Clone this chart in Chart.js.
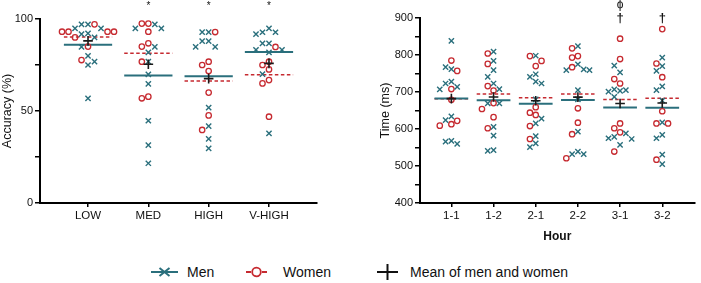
<!DOCTYPE html>
<html><head><meta charset="utf-8">
<script src="https://cdn.jsdelivr.net/npm/chart.js@4.4.1/dist/chart.umd.min.js"></script>
<style>
html,body{margin:0;padding:0;background:#fff}
body{width:701px;height:283px;position:relative;overflow:hidden;font-family:"Liberation Sans",Arial,sans-serif;color:#111}
#c1{position:absolute;left:0;top:0}
#c2{position:absolute;left:370px;top:0}
.lg{position:absolute;top:264px;height:16px;line-height:16px;font-size:14px;white-space:nowrap}
.ic{position:absolute}
</style></head>
<body>
<canvas id="c1" width="330" height="240"></canvas>
<canvas id="c2" width="331" height="245"></canvas>

<svg class="ic" style="left:151px;top:265px" width="27" height="14"><line x1="0" y1="7" x2="27" y2="7" stroke="#2a6f7c" stroke-width="2"/><line x1="8.5" y1="3" x2="18.5" y2="11" stroke="#2a6f7c" stroke-width="2"/><line x1="8.5" y1="11" x2="18.5" y2="3" stroke="#2a6f7c" stroke-width="2"/></svg>
<div class="lg" style="left:187px">Men</div>
<svg class="ic" style="left:246px;top:265px" width="21" height="14"><line x1="0" y1="7" x2="5" y2="7" stroke="#c62a30" stroke-width="2"/><line x1="16" y1="7" x2="21" y2="7" stroke="#c62a30" stroke-width="2"/><circle cx="10.5" cy="7" r="4.3" fill="none" stroke="#c62a30" stroke-width="1.8"/></svg>
<div class="lg" style="left:283px">Women</div>
<svg class="ic" style="left:377px;top:264px" width="21" height="16"><line x1="0" y1="8" x2="21" y2="8" stroke="#111" stroke-width="2"/><line x1="10.5" y1="0" x2="10.5" y2="16" stroke="#111" stroke-width="2"/></svg>
<div class="lg" style="left:410px">Mean of men and women</div>

<script>
// ---------- DATA ----------
const accCategories = ['LOW', 'MED', 'HIGH', 'V-HIGH'];
const accMen = [
  [97.1, 94.9, 94.9, 97.1, 92.2, 91.8, 90.0, 84.8, 79.9, 76.8, 75.0, 56.9],
  [97.1, 94.9, 94.9, 84.8, 81.9, 76.8, 69.9, 64.7, 44.7, 31.5, 21.6],
  [92.9, 92.9, 88.0, 88.0, 84.8, 84.8, 51.8, 41.8, 34.8, 29.7],
  [94.9, 92.8, 92.8, 91.8, 86.8, 86.8, 83.2, 81.9, 83.2, 70.1, 37.9]
];
const accWomen = [
  [97.1, 93.1, 93.1, 93.1, 93.1, 90.0, 85.0, 77.7],
  [97.5, 97.5, 93.1, 86.8, 85.0, 76.8, 57.8, 56.9],
  [92.9, 76.8, 75.0, 71.7, 60.0, 47.6, 39.7],
  [84.8, 76.8, 75.0, 72.6, 66.8, 65.0, 46.9]
];
const accYTicks = [0, 25, 50, 75, 100];
const accYLabels = ['0', '', '50', '', '100'];
const accMarks = [[], ['*'], ['*'], ['*']];

const hourCategories = ['1-1', '1-2', '2-1', '2-2', '3-1', '3-2'];
const timeMen = [
  [838, 767, 762, 723, 728, 714, 707, 634, 624, 568, 566, 560],
  [809, 784, 759, 741, 723, 708, 669, 669, 606, 582, 543, 541],
  [798, 748, 741, 728, 723, 680, 628, 615, 581, 561, 551],
  [824, 775, 761, 759, 759, 705, 680, 593, 539, 532, 532],
  [771, 753, 707, 705, 687, 701, 703, 588, 579, 575, 573, 557],
  [793, 770, 757, 715, 705, 677, 618, 584, 575, 531, 505]
];
const timeWomen = [
  [785, 757, 708, 679, 622, 613, 609],
  [804, 776, 716, 704, 670, 654, 632, 602],
  [797, 784, 770, 659, 644, 638, 608, 573],
  [818, 797, 793, 767, 656, 617, 586, 521],
  [844, 789, 735, 723, 615, 602, 591, 539],
  [870, 777, 740, 648, 615, 615, 517]
];
const timeYTicks = [400, 450, 500, 550, 600, 650, 700, 750, 800, 850, 900];
const timeYLabels = ['400', '', '500', '', '600', '', '700', '', '800', '', '900'];
const timeMarks = [[], [], [], [], ['\u03D5', '\u2020'], ['\u2020']];

// ---------- STYLE ----------
const TEAL = '#2a6f7c', RED = '#c62a30', MEAN = '#1a1a1a', AXIS = '#000';
const FONT = '"Liberation Sans", Arial, sans-serif';
Chart.defaults.font.family = FONT;
Chart.defaults.color = '#111';

function meanOf(a) { return a.reduce((s, v) => s + v, 0) / a.length; }

function buildDatasets(cats, men, women) {
  const ds = [];
  ds.push({ type: 'scatter', label: 'Men', data: men.flatMap((arr, i) => arr.map(v => ({ x: i, y: v }))),
    pointStyle: 'crossRot', pointRadius: 3.7, borderColor: TEAL, backgroundColor: TEAL, borderWidth: 1.4, order: 2 });
  ds.push({ type: 'scatter', label: 'Women', data: women.flatMap((arr, i) => arr.map(v => ({ x: i, y: v }))),
    pointStyle: 'circle', pointRadius: 2.7, borderColor: RED, backgroundColor: 'rgba(0,0,0,0)', borderWidth: 1.3, order: 2 });
  cats.forEach((c, i) => {
    const mm = meanOf(men[i]), wm = meanOf(women[i]);
    ds.push({ type: 'line', data: [{ x: i - 0.4, y: mm }, { x: i + 0.4, y: mm }], borderColor: TEAL, borderWidth: 2,
      pointRadius: 0, order: 3 });
    ds.push({ type: 'line', data: [{ x: i - 0.4, y: wm }, { x: i + 0.4, y: wm }], borderColor: RED, borderWidth: 1.5,
      borderDash: [3.5, 2.5], pointRadius: 0, order: 3 });
  });
  ds.push({ type: 'scatter', data: cats.map((c, i) => ({ x: i, y: (meanOf(men[i]) + meanOf(women[i])) / 2 })),
    pointStyle: 'cross', pointRadius: 4.8, borderColor: MEAN, borderWidth: 1.6, order: 1 });
  return ds;
}

const marksPlugin = {
  id: 'marks',
  afterDatasetsDraw(chart, args, opts) {
    const ctx = chart.ctx, xs = chart.scales.x, top = chart.chartArea.top;
    ctx.save();
    ctx.fillStyle = '#111';
    ctx.textAlign = 'center';
    ctx.textBaseline = 'middle';
    opts.marks.forEach((arr, i) => {
      const x = xs.getPixelForValue(i);
      arr.forEach((m, k) => {
        const fromBottom = arr.length - 1 - k;
        ctx.font = (m === '\u2020' ? 'bold 13px ' : (m === '*' ? '10px ' : '12px ')) + FONT;
        ctx.fillText(m, x, top + opts.baseOffset - fromBottom * 13);
      });
    });
    ctx.restore();
  }
};

function makeChart(id, cats, men, women, yTicks, yLabels, marks, o) {
  const tickFont = { size: 11, family: FONT };
  return new Chart(document.getElementById(id), {
    type: 'scatter',
    data: { datasets: buildDatasets(cats, men, women) },
    plugins: [marksPlugin],
    options: {
      responsive: false, animation: false, devicePixelRatio: 1,
      layout: { padding: o.padding },
      plugins: { legend: { display: false }, tooltip: { enabled: false }, marks: { marks: marks, baseOffset: o.markOffset } },
      scales: {
        x: {
          type: 'linear', min: o.xmin, max: o.xmax,
          afterBuildTicks: s => { s.ticks = cats.map((c, i) => ({ value: i })); },
          ticks: { callback: v => cats[v] !== undefined ? cats[v] : '', autoSkip: false, maxRotation: 0, padding: 2, font: { size: 11.5, family: FONT }, color: '#111' },
          grid: { drawOnChartArea: false, color: AXIS, lineWidth: 1.5, tickLength: 4 },
          border: { color: AXIS, width: 2 },
          title: o.xTitle ? { display: true, text: o.xTitle, font: { size: 12, weight: 'bold', family: FONT }, color: '#111', padding: { top: 0, bottom: 1 } } : { display: false },
          afterFit: s => { s.height = o.xHeight; }
        },
        y: {
          min: yTicks[0], max: yTicks[yTicks.length - 1],
          afterBuildTicks: s => { s.ticks = yTicks.map(v => ({ value: v })); },
          ticks: { callback: (v, i) => yLabels[yTicks.indexOf(v)], autoSkip: false, padding: 2, font: tickFont, color: '#111' },
          grid: { drawOnChartArea: false, color: AXIS, lineWidth: 1.5, tickLength: 5 },
          border: { color: AXIS, width: 2 },
          title: { display: true, text: o.yTitle, font: { size: 12.5, family: FONT }, color: '#111', padding: { top: o.yTitlePad, bottom: 0 } },
          afterFit: s => { s.width = o.yWidth; }
        }
      }
    }
  });
}

// simple beeswarm: spread points with nearby values sideways
function applySwarm(chart, men, women, stepPx, vGapPx) {
  const xs = chart.scales.x, ys = chart.scales.y;
  const pxPerCat = Math.abs(xs.getPixelForValue(1) - xs.getPixelForValue(0));
  const menData = [], womenData = [];
  men.forEach((arr, i) => {
    const pts = arr.map(v => ({ v, g: 'm' })).concat(women[i].map(v => ({ v, g: 'w' })));
    pts.sort((a, b) => b.v - a.v);
    const placed = [];
    pts.forEach(p => {
      const py = ys.getPixelForValue(p.v);
      for (let k = 0; k < 60; k++) {
        const n = k === 0 ? 0 : (k % 2 ? -Math.ceil(k / 2) : Math.ceil(k / 2));
        const px = n * stepPx;
        if (!placed.some(q => Math.abs(q.px - px) < stepPx * 0.99 && Math.abs(q.py - py) < vGapPx)) {
          placed.push({ px, py });
          (p.g === 'm' ? menData : womenData).push({ x: i + px / pxPerCat, y: p.v });
          break;
        }
      }
    });
  });
  chart.data.datasets[0].data = menData;
  chart.data.datasets[1].data = womenData;
  chart.update('none');
}

const c1 = makeChart('c1', accCategories, accMen, accWomen, accYTicks, accYLabels, accMarks, {
  padding: { top: 19, left: 0, right: 13, bottom: 0 }, xmin: -0.796, xmax: 3.796, xHeight: 37, yWidth: 40,
  yTitle: 'Accuracy (%)', yTitlePad: 0, xTitle: null, markOffset: -13
});
const c2 = makeChart('c2', hourCategories, timeMen, timeWomen, timeYTicks, timeYLabels, timeMarks, {
  padding: { top: 18, left: 0, right: 1, bottom: 0 }, xmin: -0.744, xmax: 5.767, xHeight: 42, yWidth: 50,
  yTitle: 'Time (ms)', yTitlePad: 8, xTitle: 'Hour', markOffset: 0
});
applySwarm(c1, accMen, accWomen, 6.5, 7.5);
applySwarm(c2, timeMen, timeWomen, 5.8, 7);
</script>
</body></html>
